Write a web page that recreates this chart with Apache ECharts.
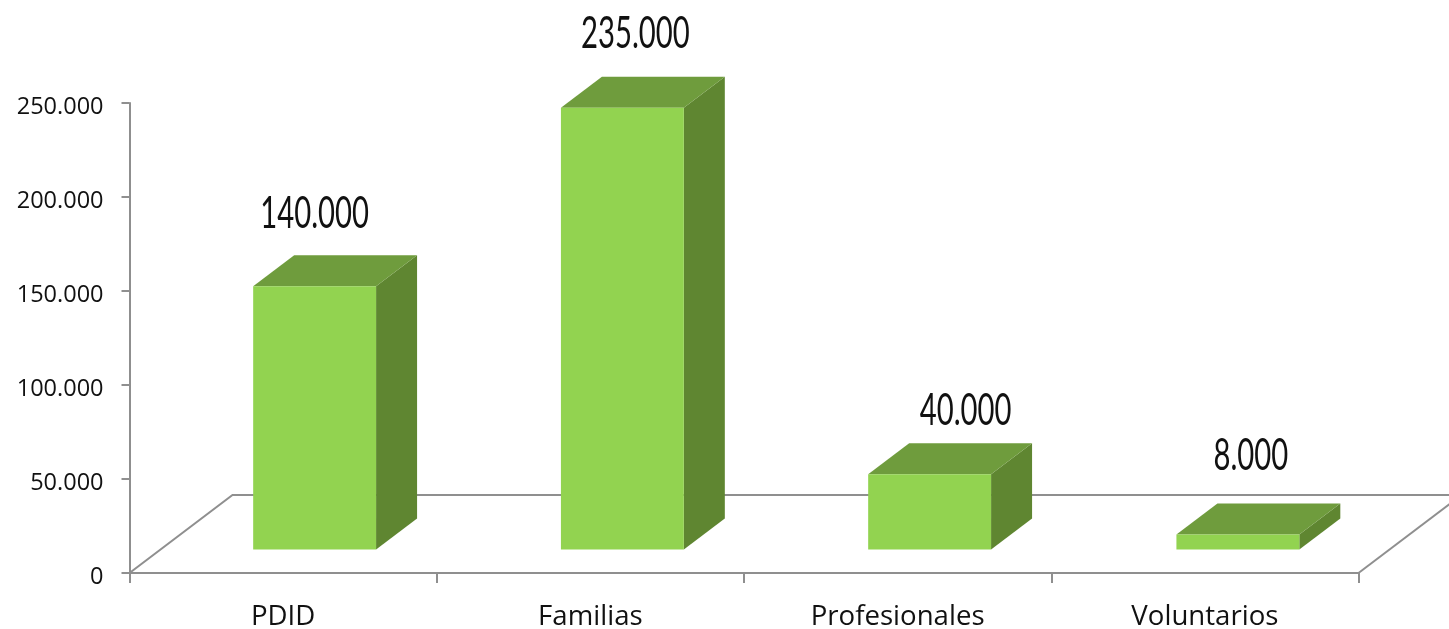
<!DOCTYPE html>
<html><head><meta charset="utf-8">
<style>html,body{margin:0;padding:0;background:#fff}#c{width:1449px;height:629px}</style>
<script src="https://cdn.jsdelivr.net/npm/echarts@6/dist/echarts.min.js"></script>
</head><body><div id="c"></div>
<script>
const categories = ['PDID', 'Familias', 'Profesionales', 'Voluntarios'];
const values = [140000, 235000, 40000, 8000];
const valueLabels = ['140.000', '235.000', '40.000', '8.000'];
const labelShiftX = [0, 13, 36, 13];
const labelLift = [72, 73, 63, 78];
const barNudge = [0, 0.5, 0.5, 1.5];

const DEPTH_X = 41, DEPTH_Y = 31, INSET_X = 31.5, INSET_Y = 23.5;
const FLOOR_X = 103, FLOOR_Y = 78;
const AXIS_GREY = '#8f8f8f';
const dots = v => String(v).replace(/\B(?=(\d{3})+$)/g, '.');

const chart = echarts.init(document.getElementById('c'), null, {renderer: 'canvas'});
chart.setOption({
  animation: false,
  backgroundColor: '#fff',
  grid: {left: 129.5, right: 90.5, top: 103, bottom: 56, outerBoundsMode: 'none'},
  xAxis: {
    type: 'category', data: categories,
    axisLine: {lineStyle: {color: AXIS_GREY, width: 2}},
    axisTick: {show: true, length: 10, lineStyle: {color: AXIS_GREY, width: 2}},
    axisLabel: {fontFamily: 'Open Sans', fontSize: 27.6, color: '#111', margin: 30, interval: 0}
  },
  yAxis: {
    type: 'value', min: 0, max: 250000, interval: 50000,
    splitLine: {show: false},
    axisLine: {show: true, lineStyle: {color: AXIS_GREY, width: 2}},
    axisTick: {show: true, length: 8, lineStyle: {color: AXIS_GREY, width: 2}},
    axisLabel: {fontFamily: 'Open Sans', fontSize: 23.5, color: '#111', margin: 26, verticalAlign: 'top', lineHeight: 9, formatter: dots}
  },
  series: [
    {
      type: 'custom', z: 1, clip: false, silent: true,
      data: [[0, 0]],
      renderItem(params, api) {
        const cs = params.coordSys;
        const x0 = cs.x, x1 = cs.x + cs.width, y = cs.y + cs.height;
        const style = {stroke: AXIS_GREY, lineWidth: 2, fill: 'none'};
        return {type: 'group', children: [{
          type: 'polyline',
          shape: {points: [[x0, y], [x0 + FLOOR_X, y - FLOOR_Y], [x1 + FLOOR_X, y - FLOOR_Y]]},
          style
        }, {
          type: 'line',
          shape: {x1, y1: y, x2: x1 + FLOOR_X, y2: y - FLOOR_Y},
          style
        }]};
      }
    },
    {
      type: 'custom', z: 3, clip: false,
      data: values.map((v, i) => [i, v]),
      encode: {x: 0, y: 1},
      renderItem(params, api) {
        const i = params.dataIndex;
        const top = api.coord([api.value(0), api.value(1)]);
        const base = api.coord([api.value(0), 0]);
        const w = api.size([1, 0])[0] * 0.4;
        const l = top[0] + INSET_X + barNudge[i] - w / 2, r = l + w;
        const ty = top[1] - INSET_Y, by = base[1] - INSET_Y;
        const poly = (points, fill) => ({type: 'polygon', shape: {points}, style: {fill, stroke: null}});
        return {type: 'group', children: [
          poly([[r, ty], [r + DEPTH_X, ty - DEPTH_Y], [r + DEPTH_X, by - DEPTH_Y], [r, by]], '#5F8631'),
          poly([[l, ty], [l + DEPTH_X, ty - DEPTH_Y], [r + DEPTH_X, ty - DEPTH_Y], [r, ty]], '#6F9C3D'),
          poly([[l, ty], [r, ty], [r, by], [l, by]], '#92D350'),
          {
            type: 'text',
            x: (l + r) / 2 + labelShiftX[i],
            y: ty - labelLift[i] - 1,
            scaleX: 0.65,
            originX: 0, originY: 0,
            style: {
              text: valueLabels[i],
              fontFamily: 'Lato',
              fontWeight: 400,
              fontSize: 45, fill: '#111',
              align: 'center', verticalAlign: 'middle'
            }
          }
        ]};
      }
    }
  ]
});
</script></body></html>
